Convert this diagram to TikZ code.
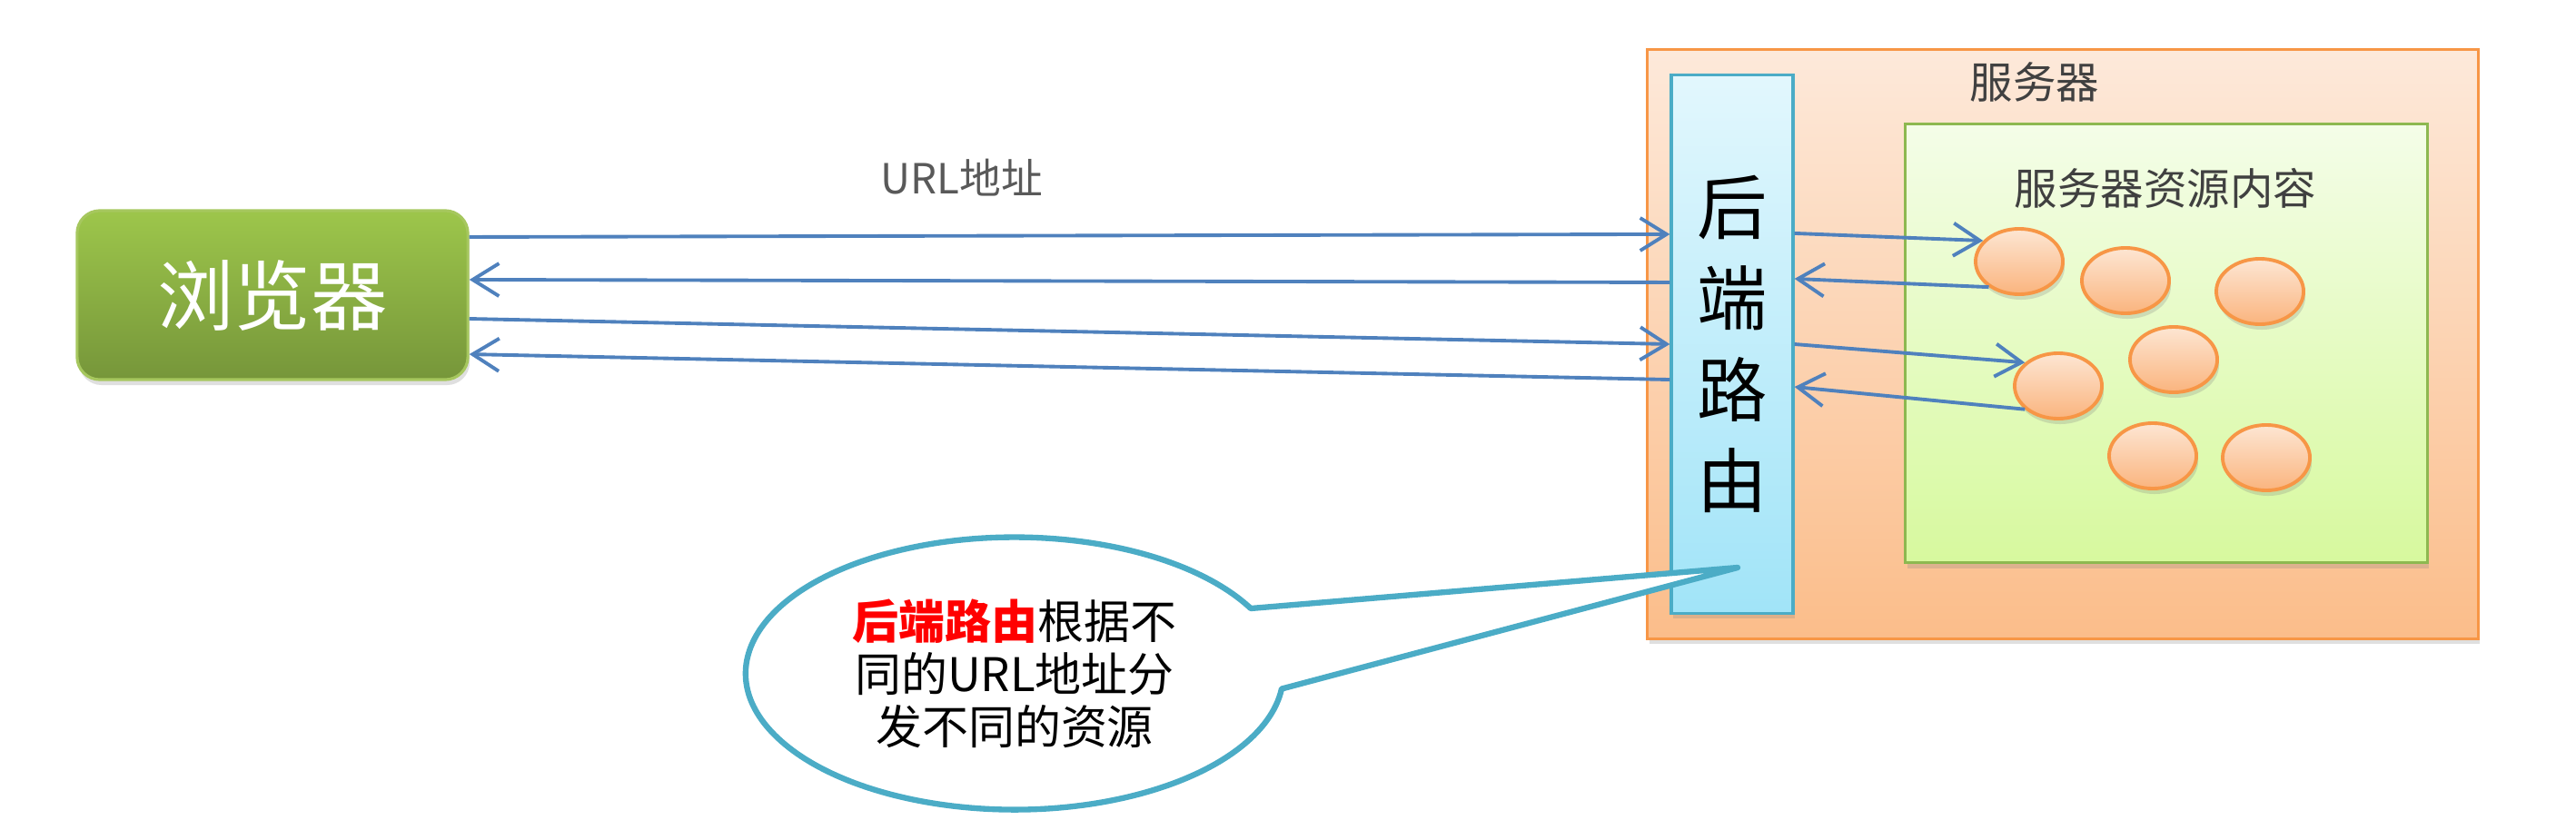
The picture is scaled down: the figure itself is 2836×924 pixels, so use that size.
\documentclass[tikz,border=0pt]{standalone}
\usepackage{fontspec}
\setmainfont{Noto Sans CJK SC}
\usepackage{xcolor}
\usetikzlibrary{shapes.geometric, arrows.meta, positioning, shadows}
\definecolor{arrowblue}{HTML}{4F81BD}
\definecolor{calloutblue}{HTML}{4BACC6}
\definecolor{browsertop}{HTML}{9DC64B}
\definecolor{browserbot}{HTML}{76963A}
\definecolor{browserline}{HTML}{A6C75E}
\definecolor{servertop}{HTML}{FDE9DA}
\definecolor{serverbot}{HTML}{FBBD8A}
\definecolor{orangeline}{HTML}{F79646}
\definecolor{routetop}{HTML}{E2F7FD}
\definecolor{routebot}{HTML}{A1E4F8}
\definecolor{pooltop}{HTML}{F4FDE8}
\definecolor{poolbot}{HTML}{D7F99E}
\definecolor{poolline}{HTML}{8DB850}
\definecolor{itemtop}{HTML}{FDE6D3}
\definecolor{itembot}{HTML}{FAB47E}
\definecolor{captiongray}{HTML}{404040}
\definecolor{urlgray}{HTML}{595959}
\tikzstyle{softshadow} = [drop shadow={shadow xshift=0.02cm, shadow yshift=-0.06cm, opacity=0.25}]
\tikzstyle{browserbox} = [rectangle, rounded corners=0.25cm, draw=browserline, line width=0.9pt, top color=browsertop, bottom color=browserbot, minimum width=4.3cm, minimum height=1.86cm, text=white, font=\fontsize{24pt}{28pt}\selectfont, softshadow]
\tikzstyle{serverbox}  = [rectangle, draw=orangeline, line width=0.9pt, top color=servertop, bottom color=serverbot, minimum width=9.14cm, minimum height=6.48cm, softshadow]
\tikzstyle{routebox}   = [rectangle, draw=calloutblue, line width=0.9pt, top color=routetop, bottom color=routebot, minimum width=1.34cm, minimum height=5.92cm, align=center, font=\fontsize{22pt}{28.5pt}\selectfont, softshadow]
\tikzstyle{poolbox}    = [rectangle, draw=poolline, line width=0.9pt, top color=pooltop, bottom color=poolbot, minimum width=5.74cm, minimum height=4.83cm, softshadow]
\tikzstyle{item}       = [ellipse, draw=orangeline, line width=1.1pt, top color=itemtop, bottom color=itembot, minimum width=0.96cm, minimum height=0.72cm, inner sep=0pt, softshadow]
\tikzstyle{caption}    = [text=captiongray, font=\fontsize{13.5pt}{16pt}\selectfont]
\tikzstyle{urltext}    = [text=urlgray, font=\fontsize{13pt}{16pt}\selectfont]
\tikzstyle{notetext}   = [align=center, font=\fontsize{14.5pt}{16.5pt}\selectfont]
\tikzstyle{arrow}      = [-{Straight Barb[length=0.29cm, width=0.36cm]}, draw=arrowblue, line width=1.1pt]
\tikzstyle{callout}    = [draw=calloutblue, fill=white, line width=1.8pt, line join=round]

\begin{document}
\begin{tikzpicture}[x=0.01cm, y=-0.01cm]
    \useasboundingbox (0,0) rectangle (2836,924);

    \node (browser) [browserbox] at (300,325) {浏览器};
    \node (server) [serverbox] at (2271,379) {};
    \node (srvlabel) [caption] at (2240,90) {服务器};
    \node (route) [routebox] at (1907,379) {后\\端\\路\\由};
    \node (pool) [poolbox] at (2385,378) {};
    \node (poollabel) [caption] at (2384,207) {服务器资源内容};

    \node (c1) [item] at (2223,288) {};
    \node (c2) [item] at (2340,309) {};
    \node (c3) [item] at (2488,321) {};
    \node (c4) [item] at (2393,396) {};
    \node (c5) [item] at (2266,425) {};
    \node (c6) [item] at (2370,502) {};
    \node (c7) [item] at (2495,504) {};

    \draw [arrow] ([yshift=0.64cm]browser.east) -- node[pos=0.41, above=0.3cm, urltext]{URL地址} ([yshift=1.21cm]route.west);
    \draw [arrow] ([yshift=0.68cm]route.west) -- ([yshift=0.17cm]browser.east);
    \draw [arrow] ([yshift=-0.26cm]browser.east) -- (route.west);
    \draw [arrow] ([yshift=-0.39cm]route.west) -- ([yshift=-0.65cm]browser.east);

    \draw [arrow] ([yshift=1.22cm]route.east) -- (c1.150);
    \draw [arrow] (c1.220) -- ([yshift=0.72cm]route.east);
    \draw [arrow] (route.east) -- (c5.145);
    \draw [arrow] (c5.215) -- ([yshift=-0.47cm]route.east);

    % callout
    \coordinate (notec) at (1117,742);
    \coordinate (tip) at (1913,625);
    \draw [callout] (tip) -- ([shift={(260,-72)}]notec) arc[start angle=-28.5, end angle=-353.5, x radius=296, y radius=150] -- cycle;
    \node (note) [notetext] at (notec) {{\color{red}\bfseries 后端路由}根据不\\同的URL地址分\\发不同的资源};
\end{tikzpicture}
\end{document}
